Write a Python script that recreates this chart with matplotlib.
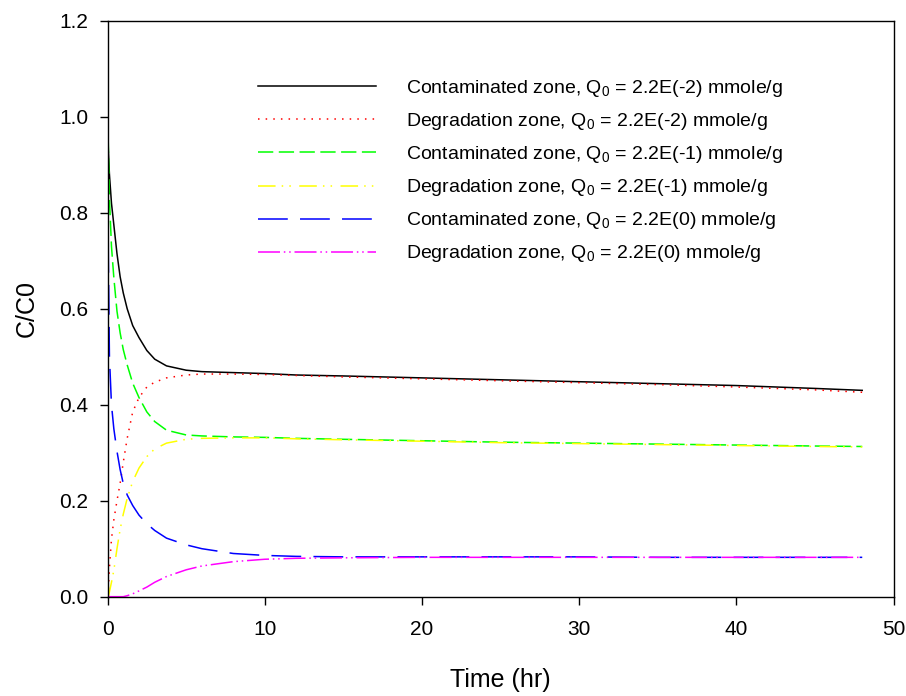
import matplotlib
matplotlib.use("Agg")
import matplotlib.pyplot as plt

plt.rcParams["font.family"] = ["Liberation Sans", "DejaVu Sans"]
plt.rcParams["mathtext.fontset"] = "custom"
plt.rcParams["mathtext.rm"] = "Liberation Sans"
plt.rcParams["mathtext.it"] = "Liberation Sans"

# time (hr)
time = [0, 0.05, 0.12, 0.25, 0.4, 0.6, 0.8, 1.0, 1.25, 1.6, 2.0, 2.5, 3.0, 3.75,
        5.0, 6.0, 8.0, 10, 12, 15, 20, 25, 30, 35, 40, 45, 48]

cont_q2 = [1.0, 0.93, 0.88, 0.82, 0.775, 0.715, 0.667, 0.633, 0.60, 0.565, 0.54, 0.513,
           0.495, 0.481, 0.472, 0.469, 0.467, 0.465, 0.462, 0.46, 0.456, 0.452, 0.448,
           0.444, 0.440, 0.434, 0.430]
degr_q2 = [0.0, 0.014, 0.06, 0.12, 0.16, 0.20, 0.236, 0.28, 0.33, 0.385, 0.415, 0.437,
           0.447, 0.456, 0.462, 0.464, 0.464, 0.463, 0.461, 0.458, 0.454, 0.450, 0.446,
           0.442, 0.437, 0.431, 0.426]
cont_q1 = [1.0, 0.94, 0.83, 0.73, 0.665, 0.595, 0.55, 0.515, 0.483, 0.445, 0.415, 0.385,
           0.365, 0.347, 0.337, 0.335, 0.333, 0.332, 0.330, 0.328, 0.325, 0.322, 0.320,
           0.318, 0.316, 0.314, 0.313]
degr_q1 = [0.0, 0.0, 0.01, 0.03, 0.055, 0.10, 0.14, 0.172, 0.205, 0.24, 0.268, 0.292,
           0.308, 0.32, 0.328, 0.330, 0.331, 0.331, 0.329, 0.327, 0.324, 0.321, 0.319,
           0.317, 0.315, 0.313, 0.312]
cont_q0 = [1.0, 0.71, 0.50, 0.40, 0.35, 0.303, 0.265, 0.236, 0.212, 0.19, 0.17, 0.152,
           0.138, 0.122, 0.108, 0.100, 0.090, 0.086, 0.084, 0.083, 0.083, 0.083, 0.083,
           0.082, 0.082, 0.082, 0.082]
degr_q0 = [0.0, 0.0, 0.0, 0.0, 0.0, 0.0, 0.0, 0.0, 0.002, 0.006, 0.012, 0.02, 0.03, 0.042,
           0.056, 0.064, 0.073, 0.078, 0.080, 0.081, 0.082, 0.082, 0.082, 0.082, 0.082,
           0.082, 0.082]

labels = [
    r"Contaminated zone, Q$_{\mathregular{0}}$ = 2.2E(-2) mmole/g",
    r"Degradation zone, Q$_{\mathregular{0}}$ = 2.2E(-2) mmole/g",
    r"Contaminated zone, Q$_{\mathregular{0}}$ = 2.2E(-1) mmole/g",
    r"Degradation zone, Q$_{\mathregular{0}}$ = 2.2E(-1) mmole/g",
    r"Contaminated zone, Q$_{\mathregular{0}}$ = 2.2E(0) mmole/g",
    r"Degradation zone, Q$_{\mathregular{0}}$ = 2.2E(0) mmole/g",
]

fig = plt.figure(figsize=(9.06, 6.96), dpi=100)
ax = fig.add_axes([0.1187, 0.1427, 0.8677, 0.8273])

series = [cont_q2, degr_q2, cont_q1, degr_q1, cont_q0, degr_q0]
colors = ["black", "#ff0000", "#00ff00", "#ffff00", "#0000ff", "#ff00ff"]
dashes = [None, (1, 4), (10, 3.6), (11.5, 4, 1, 4, 1, 5.5),
          (19.5, 8), (14.4, 2.5, 1, 2.5, 1, 2.5)]

for vals, c, d, lab in zip(series, colors, dashes, labels):
    line, = ax.plot(time, vals, color=c, lw=1.1, label=lab)
    if d is not None:
        line.set_dashes(d)

ax.set_xlim(0, 50)
ax.set_ylim(0, 1.2)
ax.set_xticks([0, 10, 20, 30, 40, 50])
ax.set_yticks([0, 0.2, 0.4, 0.6, 0.8, 1.0, 1.2])
ax.set_yticklabels(["0.0", "0.2", "0.4", "0.6", "0.8", "1.0", "1.2"])
ax.tick_params(direction="out", length=5.8, width=1, labelsize=15)
ax.tick_params(axis="x", pad=11)
ax.tick_params(axis="y", pad=8)
for s in ax.spines.values():
    s.set_linewidth(1)

ax.set_xlabel("Time (hr)", fontsize=18, labelpad=21)
ax.set_ylabel("C/C0", fontsize=18, labelpad=15)

ax.legend(loc="upper left", bbox_to_anchor=(0.1815, 0.914), frameon=False, fontsize=14,
          handlelength=6.07, handletextpad=1.54, labelspacing=0.62, borderaxespad=0)

fig.savefig("out.png", dpi=100)
